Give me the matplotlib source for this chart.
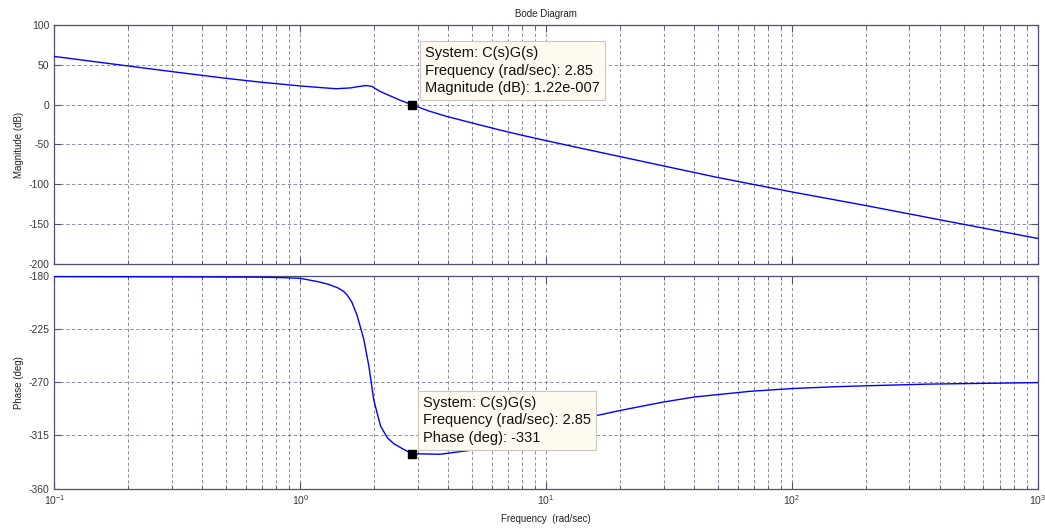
import numpy as np
import matplotlib
matplotlib.use("Agg")
import matplotlib.pyplot as plt
from matplotlib.ticker import LogLocator, NullFormatter, FixedLocator

plt.rcParams['font.family'] = ['Liberation Sans', 'DejaVu Sans']
plt.rcParams['axes.unicode_minus'] = False

# magnitude curve
freq_mag = [0.1, 0.2, 0.3, 0.5, 0.7, 1.0, 1.2, 1.4, 1.6, 1.75, 1.85, 1.95,
            2.1, 2.3, 2.55, 2.85, 3.3, 3.9, 5.0, 6.5, 8.0, 10, 14, 20, 30, 50,
            100, 200, 400, 1000]
mag_db = [60.5, 48.5, 41.5, 33.0, 28.0, 23.5, 21.5, 20.0, 21.0, 23.0, 24.0, 23.0,
          17.0, 11.5, 5.5, 0.0, -7.5, -14.4, -23.0, -31.9, -38.5, -45.2, -55.0,
          -65.2, -76.9, -91.5, -109.6, -126.7, -144.6, -168.0]

# phase curve
freq_phase = [0.1, 0.7, 0.85, 1.0, 1.18, 1.3, 1.42, 1.5, 1.55, 1.62, 1.7, 1.81,
              1.9, 1.99, 2.12, 2.26, 2.4, 2.64, 2.85, 3.7, 5.2, 15.8, 19.9, 29.9,
              40.1, 67.3, 100.8, 150, 200, 354, 1000]
phase_deg = [-180.5, -181, -181.4, -182, -184.8, -187, -190, -193, -196, -202,
             -213, -233, -256, -285, -307, -317, -322, -327, -330.5, -331, -327,
             -298.5, -294, -286.8, -282.5, -277.7, -275.3, -273.8, -273.0,
             -271.6, -270.3]

# data tip
tip_freq = 2.85
tip_mag = 1.22e-7
tip_phase = -331
tip_system = "C(s)G(s)"
tip_freq_label = "2.85"
tip_mag_label = "1.22e-007"
tip_phase_label = "-331"

mag_ticks = [-200, -150, -100, -50, 0, 50, 100]
phase_ticks = [-360, -315, -270, -225, -180]

AX_COL = "#4f4f72"
GRID_COL = "#5a5a80"
LINE_COL = "#0000ff"

fig = plt.figure(figsize=(10.45, 5.28), dpi=100)
ax1 = fig.add_axes([0.052, 0.5, 0.9413, 0.4527])
ax2 = fig.add_axes([0.052, 0.0748, 0.9413, 0.4025])

ax1.plot(freq_mag, mag_db, color=LINE_COL, lw=1.0, zorder=3)
ax2.plot(freq_phase, phase_deg, color=LINE_COL, lw=1.0, zorder=3)

for ax, ticks in ((ax1, mag_ticks), (ax2, phase_ticks)):
    ax.set_xscale("log")
    ax.set_xlim(0.1, 1000)
    ax.set_ylim(ticks[0], ticks[-1])
    ax.yaxis.set_major_locator(FixedLocator(ticks))
    ax.xaxis.set_major_locator(LogLocator(base=10))
    ax.xaxis.set_minor_locator(LogLocator(base=10, subs=range(2, 10)))
    ax.xaxis.set_minor_formatter(NullFormatter())
    ax.grid(True, which="major", axis="both", color=GRID_COL, lw=0.6,
            linestyle=(0, (4, 3)), alpha=0.8)
    ax.grid(True, which="minor", axis="x", color=GRID_COL, lw=0.6,
            linestyle=(0, (4, 3)), alpha=0.8)
    ax.tick_params(which="both", direction="in", top=True, right=True,
                   colors=AX_COL, labelcolor="#3a3a3a", labelsize=7.5)
    ax.tick_params(which="major", length=5, width=0.8)
    ax.tick_params(which="minor", length=3, width=0.6)
    for s in ax.spines.values():
        s.set_color(AX_COL)
        s.set_linewidth(0.9)
    ax.set_axisbelow(True)

ax1.tick_params(labelbottom=False)
ax1.set_title("Bode Diagram", fontsize=7, pad=6, color="#222222")
ax1.set_ylabel("Magnitude (dB)", fontsize=7, color="#222222")
ax2.set_ylabel("Phase (deg)", fontsize=7, color="#222222")
ax1.yaxis.set_label_coords(-0.031, 0.5)
ax2.yaxis.set_label_coords(-0.031, 0.5)
ax2.set_xlabel("Frequency  (rad/sec)", fontsize=7, color="#222222", labelpad=5)

box = dict(boxstyle="square,pad=0.35", fc="#fffaf0", ec="#c8c8c0", lw=0.8)
ax1.plot([tip_freq], [tip_mag], marker="s", ms=5.5, color="black", zorder=6)
ax1.annotate(f"System: {tip_system}\nFrequency (rad/sec): {tip_freq_label}\n"
             f"Magnitude (dB): {tip_mag_label}",
             xy=(tip_freq, tip_mag), xytext=(9, 7), textcoords="offset points",
             ha="left", va="bottom", fontsize=10.5, linespacing=1.3,
             color="#111111", bbox=box, zorder=5)
ax2.plot([tip_freq], [tip_phase], marker="s", ms=5.5, color="black", zorder=6)
ax2.annotate(f"System: {tip_system}\nFrequency (rad/sec): {tip_freq_label}\n"
             f"Phase (deg): {tip_phase_label}",
             xy=(tip_freq, tip_phase), xytext=(8, 7), textcoords="offset points",
             ha="left", va="bottom", fontsize=10.5, linespacing=1.3,
             color="#111111", bbox=box, zorder=5)

fig.savefig("out.png", dpi=100)
